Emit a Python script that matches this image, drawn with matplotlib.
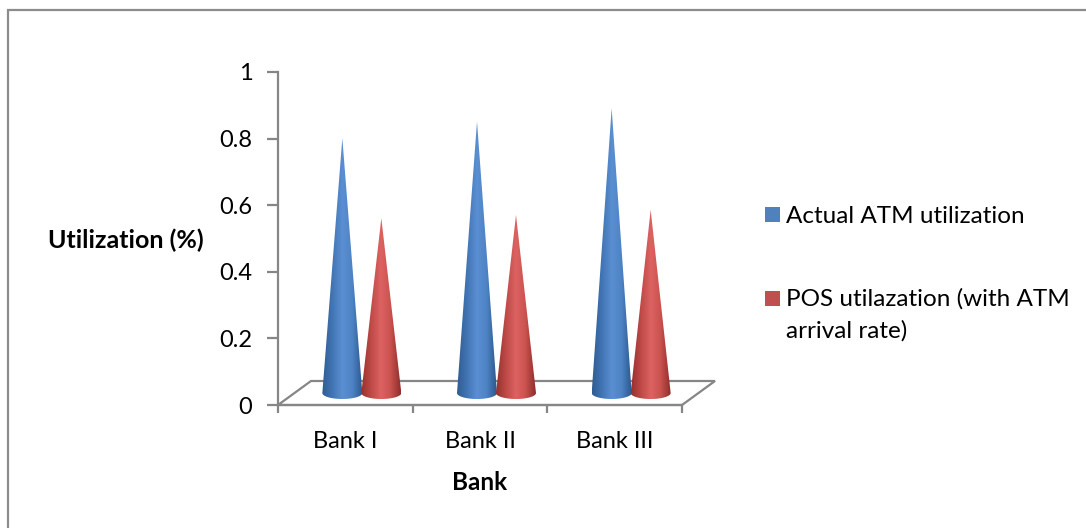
import numpy as np
import matplotlib
matplotlib.use('Agg')
import matplotlib.pyplot as plt
from matplotlib.colors import LinearSegmentedColormap
from matplotlib.lines import Line2D
from matplotlib.patches import Patch, PathPatch
from matplotlib.path import Path

banks = ['Bank I', 'Bank II', 'Bank III']
actual_atm = [0.765, 0.815, 0.855]
pos_util = [0.525, 0.535, 0.55]
y_ticks = [0, 0.2, 0.4, 0.6, 0.8, 1]
y_tick_labels = ['0', '0.2', '0.4', '0.6', '0.8', '1']

W, H = 1086, 528
GRAY = '#868686'

plt.rcParams['font.family'] = ['Lato', 'DejaVu Sans']
plt.rcParams['font.size'] = 17

fig = plt.figure(figsize=(W/100, H/100), dpi=100)
# axes box in pixels: x 278..682, y 405..72
ax = fig.add_axes([278/W, 1 - 405/H, (682-278)/W, (405-72)/H])
ax.set_xlim(0, 3)
ax.set_ylim(0, 1)

px_x = 3/(682-278)
px_y = 1/(405-72)

# outer frame, only top and left show up in the crop
fig.add_artist(Line2D([7.5/W, 7.5/W, 1], [0, 1 - 9.5/H, 1 - 9.5/H], transform=fig.transFigure,
                      color='#8c8c8c', lw=1.6, solid_joinstyle='miter'))

# floor of the 3d box
dx, dy = 33*px_x, 24*px_y
floor_x = [0, 3, 3+dx, dx, 0]
floor_y = [0, 0, dy, dy, 0]
ax.plot(floor_x, floor_y, color=GRAY, lw=1.6, clip_on=False, zorder=1, solid_joinstyle='miter')


def cone(center, value, colors):
    # cone stands half way into the depth of the floor
    cx = center + dx/2
    by = dy/2
    rx = 20*px_x
    ry = 6*px_y
    t = np.linspace(np.pi, 2*np.pi, 40)
    xs = np.r_[cx + rx*np.cos(t), cx, cx - rx]
    ys = np.r_[by + ry*np.sin(t), by + value, by]
    path = Path(np.c_[xs, ys])
    cmap = LinearSegmentedColormap.from_list('c', colors)
    grad = np.linspace(0, 1, 64).reshape(1, -1)
    im = ax.imshow(grad, cmap=cmap, extent=(cx - rx, cx + rx, by - ry, by + value),
                   aspect='auto', zorder=3, clip_on=True, interpolation='bilinear')
    im.set_clip_path(PathPatch(path, transform=ax.transData))


blue = ['#2f5d92', '#4275b4', '#5a8fd3', '#4d82c4', '#2c588c']
red = ['#96302e', '#bf4a47', '#dc6361', '#c9514e', '#8f2e2c']
offset = 19.5*px_x
for i in range(len(banks)):
    cone(i + 0.5 - offset, actual_atm[i], blue)
    cone(i + 0.5 + offset, pos_util[i], red)
ax.set_xlim(0, 3)
ax.set_ylim(0, 1)

for s in ['top', 'right']:
    ax.spines[s].set_visible(False)
for s in ['left', 'bottom']:
    ax.spines[s].set_color(GRAY)
    ax.spines[s].set_linewidth(1.6)
ax.patch.set_alpha(0)

ax.set_yticks(y_ticks)
ax.set_yticklabels(y_tick_labels)
ax.set_xticks([0, 1, 2, 3])
ax.set_xticklabels([])
ax.set_xticks([0.5, 1.5, 2.5], minor=True)
ax.set_xticklabels(banks, minor=True)
ax.tick_params(axis='x', which='minor', length=0, pad=18.5, colors='black')
ax.tick_params(axis='x', which='major', length=6, color=GRAY, width=1.6)
ax.tick_params(axis='y', length=8, color=GRAY, width=1.6, pad=10.5)

ax.set_xlabel('Bank', fontweight='bold', fontsize=17.5)
ax.xaxis.set_label_coords((480-278)/(682-278), (405-482)/(405-72))
ax.xaxis.label.set_va('center')
ax.set_ylabel('Utilization (%)', fontweight='bold', fontsize=18, rotation=0, ha='center', va='center')
ax.yaxis.set_label_coords((126-278)/(682-278), (405-240)/(405-72))

handles = [Patch(facecolor='#4f81bd', label='Actual ATM utilization'),
           Patch(facecolor='#c0504d', label='POS utilazation (with ATM\narrival rate)')]
leg = ax.legend(handles=handles, loc='upper left', bbox_to_anchor=(765/W, 1 - 206/H),
                bbox_transform=fig.transFigure, frameon=False, borderpad=0, borderaxespad=0,
                fontsize=17.5, handlelength=0.62, handleheight=0.62, handletextpad=0.25,
                labelspacing=2.5)
for t in leg.get_texts():
    t.set_linespacing(1.6)
# square sits beside the first line of the wrapped label
p = leg.get_patches()[1]
p.set_y(p.get_y() + 11.5)

fig.savefig('out.png', dpi=100)
